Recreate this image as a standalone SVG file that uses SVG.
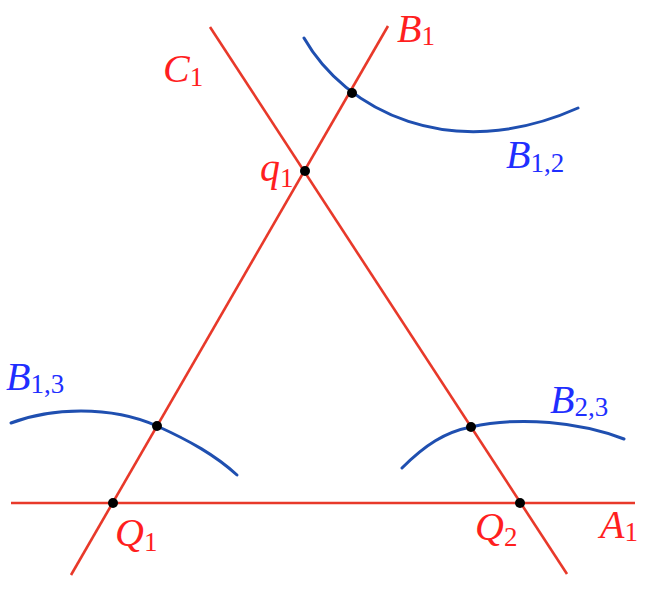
<svg xmlns="http://www.w3.org/2000/svg" width="648" height="596" viewBox="0 0 648 596">
<style>
.ln{stroke:#e8392a;stroke-width:2.6;fill:none}
.cv{stroke:#1f4fb0;stroke-width:3;fill:none;stroke-linecap:round}
.dot{fill:#000}
.lr{fill:#ff1f1f;font-family:"Liberation Serif",serif;font-style:italic;font-size:40px}
.lb{fill:#1f2fff;font-family:"Liberation Serif",serif;font-style:italic;font-size:40px}
.s{font-style:normal;font-size:27px}
</style>
<rect width="648" height="596" fill="#fff"/>
<g id="connectors">
<line id="A1" class="ln" x1="11" y1="503" x2="635" y2="503"/>
<line id="B1" class="ln" x1="71" y1="575" x2="388" y2="26"/>
<line id="C1" class="ln" x1="210" y1="27" x2="567" y2="574"/>
<path id="B12" class="cv" d="M304,38 C345,110 450,165 578,108"/>
<path id="B13" class="cv" d="M11,423 C50,408 110,405 157,426 C190,441 215,455 237,475"/>
<path id="B23" class="cv" d="M402,468 C425,445 445,432 471,427 C520,416 580,422 624,439"/>
</g>
<g id="points">
<circle class="dot" cx="352" cy="93" r="5"/>
<circle class="dot" cx="305" cy="171" r="5"/>
<circle class="dot" cx="157" cy="426" r="5"/>
<circle class="dot" cx="471" cy="427" r="5"/>
<circle class="dot" cx="113" cy="503" r="5"/>
<circle class="dot" cx="520" cy="503" r="5"/>
</g>
<g id="labels">
<text class="lr" x="397" y="42">B<tspan class="s" dy="3">1</tspan></text>
<text class="lr" x="163" y="82">C<tspan class="s" dy="4">1</tspan></text>
<text class="lr" x="260" y="181">q<tspan class="s" dy="6">1</tspan></text>
<text class="lb" x="506" y="168">B<tspan class="s" dy="4">1,2</tspan></text>
<text class="lb" x="6" y="390">B<tspan class="s" dy="3">1,3</tspan></text>
<text class="lb" x="550" y="413">B<tspan class="s" dy="3">2,3</tspan></text>
<text class="lr" x="115" y="546">Q<tspan class="s" dy="5">1</tspan></text>
<text class="lr" x="475" y="540">Q<tspan class="s" dy="6">2</tspan></text>
<text class="lr" x="600" y="538">A<tspan class="s" dy="3">1</tspan></text>
</g>
</svg>
